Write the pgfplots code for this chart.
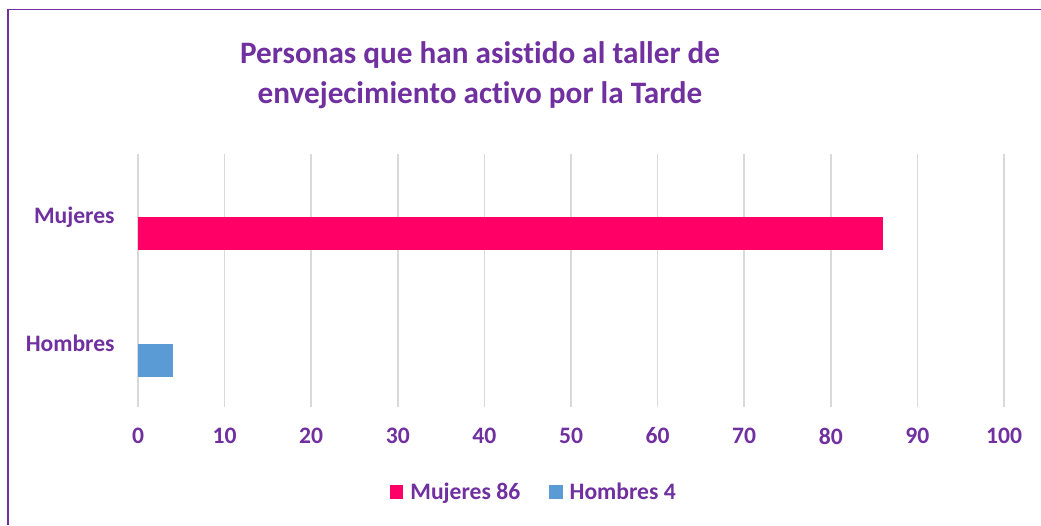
\documentclass[border=0pt]{standalone}
\usepackage{pgfplots}
\pgfplotsset{compat=1.18}
\usepackage{fontspec}
\setmainfont{Carlito}[Ligatures=NoCommon]
\definecolor{txtpurple}{HTML}{7030A0}
\definecolor{mpink}{HTML}{FF0066}
\definecolor{hblue}{HTML}{5B9BD5}
\definecolor{gridgray}{HTML}{D9D9D9}
\begin{document}
\begin{tikzpicture}[x=0.75pt,y=0.75pt]
\useasboundingbox (0,0) rectangle (1041,525);
\draw[txtpurple,line width=1.2pt] (7.7,0) -- (7.7,515.5) -- (1041,515.5);
\node[anchor=base,text=txtpurple,font=\fontsize{23.4}{28}\selectfont\bfseries] at (480,461) {Personas que han asistido al taller de};
\node[anchor=base,text=txtpurple,font=\fontsize{23.4}{28}\selectfont\bfseries] at (480,421) {envejecimiento activo por la Tarde};
\begin{axis}[
  at={(103.5pt,88.5pt)}, anchor=south west,
  scale only axis, width=649.5pt, height=189.75pt,
  xmin=0, xmax=100, ymin=-0.5, ymax=1.5,
  xtick={0,10,...,100}, ytick={0,1}, yticklabels={Hombres,Mujeres},
  axis line style={draw=none},
  major tick length=0pt,
  xmajorgrids, grid style={gridgray,line width=1.1pt},
  /pgf/number format/assume math mode=true,
  tick label style={text=txtpurple,font=\fontsize{17.7}{20}\selectfont\bfseries},
  xticklabel style={yshift=-12pt},
  yticklabel style={anchor=east,xshift=-14pt},
  xbar, bar width=0.261, bar shift=-0.1305,
  legend style={at={(0.4574,-0.336)},anchor=center,draw=none,legend columns=2,
    font=\fontsize{17.7}{20}\selectfont\bfseries,text=txtpurple,
    /tikz/every even column/.append style={column sep=19.5pt}},
  legend image code/.code={\fill[#1,draw=none] (0pt,-5.1pt) rectangle (10.2pt,5.1pt); \path (13.5pt,0pt);},
]
\addplot[fill=mpink,draw=none] coordinates {(86,1)};
\addplot[fill=hblue,draw=none] coordinates {(4,0)};
\legend{Mujeres 86,Hombres 4}
\end{axis}
\end{tikzpicture}
\end{document}
